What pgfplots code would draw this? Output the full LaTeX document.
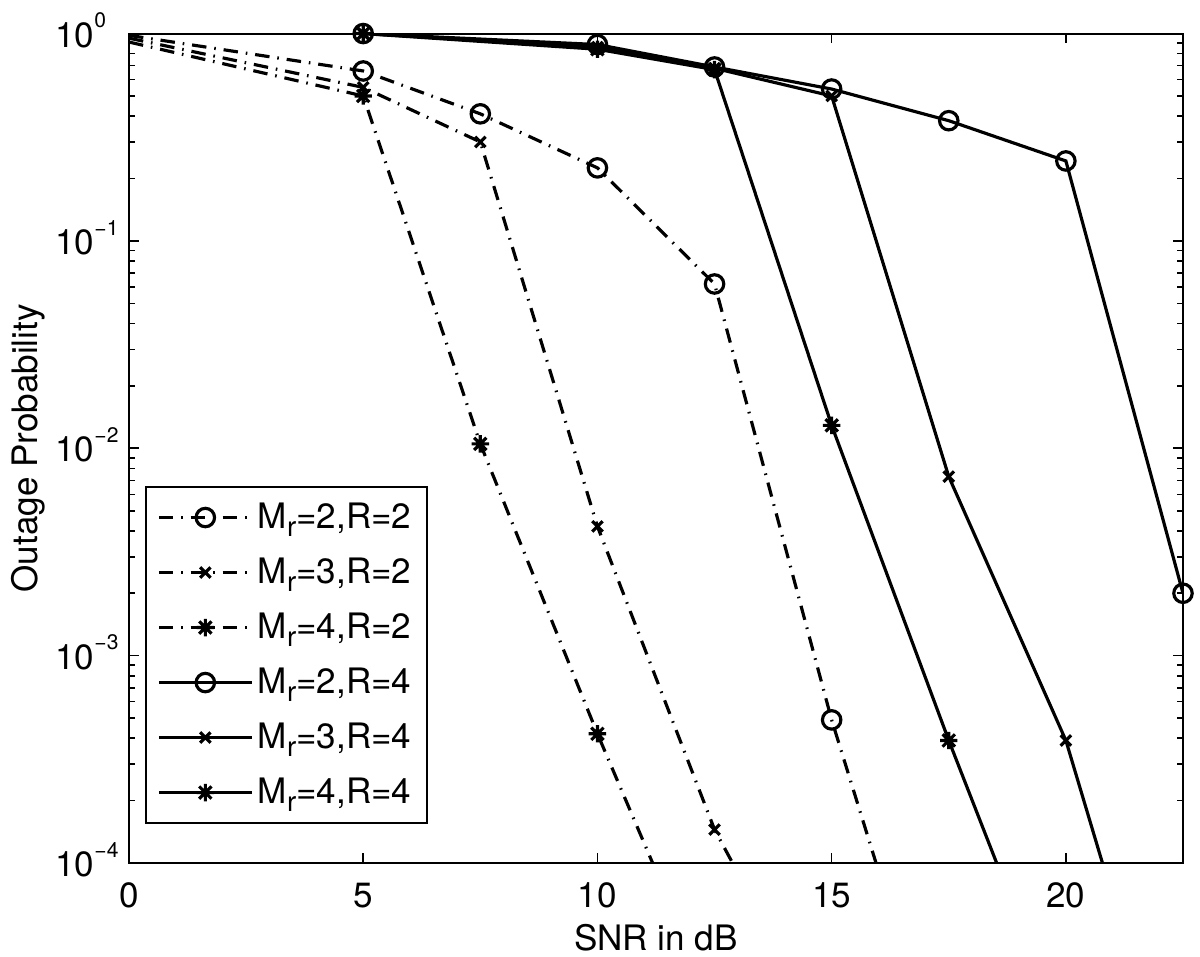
\documentclass[border=0pt]{standalone}
\usepackage{pgfplots}
\pgfplotsset{compat=1.18}
\usepackage{fontspec}
\setmainfont{TeX Gyre Heros}
\pgfdeclareplotmark{mstar}{%
 \pgfpathmoveto{\pgfqpoint{0pt}{\pgfplotmarksize}}\pgfpathlineto{\pgfqpoint{0pt}{-\pgfplotmarksize}}%
 \pgfpathmoveto{\pgfqpoint{\pgfplotmarksize}{0pt}}\pgfpathlineto{\pgfqpoint{-\pgfplotmarksize}{0pt}}%
 \pgfpathmoveto{\pgfqpoint{0.707\pgfplotmarksize}{0.707\pgfplotmarksize}}\pgfpathlineto{\pgfqpoint{-0.707\pgfplotmarksize}{-0.707\pgfplotmarksize}}%
 \pgfpathmoveto{\pgfqpoint{0.707\pgfplotmarksize}{-0.707\pgfplotmarksize}}\pgfpathlineto{\pgfqpoint{-0.707\pgfplotmarksize}{0.707\pgfplotmarksize}}%
 \pgfusepathqstroke}
\newcommand{\Mr}[1]{M\raisebox{-0.22em}{\fontsize{10.5}{10.5}\selectfont r}=#1}
\newcommand{\sci}[1]{10\raisebox{0.55em}{\fontsize{8}{8}\selectfont #1}}
\newcommand{\fs}{\fontsize{13.3}{16}\selectfont}
\begin{document}
\begin{tikzpicture}
\path[use as bounding box] (-1.72,-1.24) rectangle (14.28,11.507);
\begin{axis}[
 scale only axis, width=14.053cm, height=11.06cm,
 xmin=0, xmax=22.5, ymode=log, ymin=1e-4, ymax=1,
 xtick={0,5,10,15,20}, xticklabels={0,5,10,15,20},
 ytick={1e-4,1e-3,1e-2,1e-1,1},
 yticklabels={\sci{−4},\sci{−3},\sci{−2},\sci{−1},\sci{0}},
 tick align=inside, major tick length=0.133cm, minor tick length=0.075cm,
 every tick/.style={black, line width=0.6pt},
 axis line style={line width=0.75pt},
 xticklabel style={anchor=base, inner sep=0pt, yshift=-0.587cm, font=\fs},
 yticklabel style={anchor=base west, inner sep=0pt, xshift=-0.987cm, yshift=-0.18cm, font=\fs},
 xlabel={SNR in dB}, ylabel={Outage Probability},
 xlabel style={at={(axis description cs:0.5,-0.0904)}, anchor=center, font=\fs},
 ylabel style={at={(axis description cs:-0.096,0.5)}, anchor=center, font=\fs},
 legend style={at={(rel axis cs:0.0152,0.4545)}, anchor=north west, draw=black, line width=0.75pt,
   font=\fs, inner xsep=0.15cm, inner ysep=0.15cm, row sep=0.22cm,
   nodes={inner sep=0.06cm}},
 legend cell align=left,
 legend image code/.code={\draw[#1, mark indices={2}] plot coordinates {(0cm,0cm) (0.62cm,0cm) (1.24cm,0cm)};},
 every axis plot/.append style={line width=1.2pt, black},
 dd/.style={dash pattern=on 5.5pt off 3pt on 0.6pt off 3pt},
]
\addplot[dd, mark=o, mark size=3.5pt, mark options={solid}, mark indices={2,3,4,5,6}] coordinates {(0,0.98) (5,0.66) (7.5,0.41) (10,0.225) (12.5,0.062) (15,4.9e-4) (17.5,7.4e-6)};
\addlegendentry{\Mr{2},R=2}
\addplot[dd, mark=x, mark size=2.8pt, mark options={solid}, mark indices={2,3,4,5}] coordinates {(0,0.95) (5,0.55) (7.5,0.30) (10,4.2e-3) (12.5,1.45e-4) (15,1.3e-5)};
\addlegendentry{\Mr{3},R=2}
\addplot[dd, mark=mstar, mark size=3.3pt, mark options={solid}, mark indices={2,3,4}] coordinates {(0,0.91) (5,0.50) (7.5,0.0105) (10,4.2e-4) (12.5,2e-5)};
\addlegendentry{\Mr{4},R=2}
\addplot[solid, mark=o, mark size=3.5pt] coordinates {(5,1) (10,0.885) (12.5,0.69) (15,0.54) (17.5,0.38) (20,0.243) (22.5,2e-3)};
\addlegendentry{\Mr{2},R=4}
\addplot[solid, mark=x, mark size=2.8pt, mark indices={1,2,3,4,5,6}] coordinates {(5,1) (10,0.86) (12.5,0.68) (15,0.50) (17.5,7.3e-3) (20,3.9e-4) (22.5,5e-6)};
\addlegendentry{\Mr{3},R=4}
\addplot[solid, mark=mstar, mark size=3.3pt, mark indices={1,2,3,4,5}] coordinates {(5,1) (10,0.84) (12.5,0.67) (15,0.0129) (17.5,3.9e-4) (20,1.4e-5)};
\addlegendentry{\Mr{4},R=4}
\end{axis}
\end{tikzpicture}
\end{document}
